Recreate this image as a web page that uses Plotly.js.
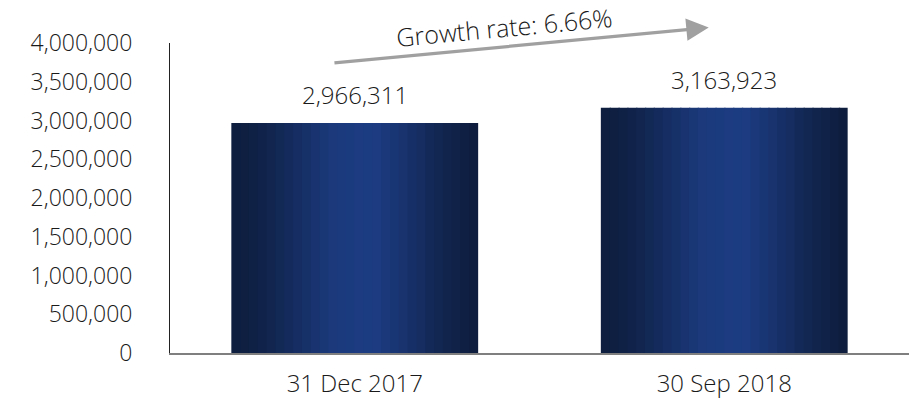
<!DOCTYPE html>
<html>
<head>
<meta charset="utf-8">
<script src="https://cdn.plot.ly/plotly-3.0.1.min.js"></script>
<style>
html,body{margin:0;padding:0;background:#fff;}
#chart{width:909px;height:400px;}
</style>
</head>
<body>
<div id="chart"></div>
<script>
// ---- data ----
const categories = ["31 Dec 2017", "30 Sep 2018"];
const values = [2966311, 3163923];
const valueLabels = ["2,966,311", "3,163,923"];
const growthLabel = "Growth rate: 6.66%";
const yTickValues = [0, 500000, 1000000, 1500000, 2000000, 2500000, 3000000, 3500000, 4000000];
const yTickLabels = ["0", "500,000", "1,000,000", "1,500,000", "2,000,000", "2,500,000", "3,000,000", "3,500,000", "4,000,000"];

// ---- styling ----
const FONT = '"Open Sans", "Noto Sans", sans-serif';
const FS = 23;
const FW = 300;
const barWidth = 0.668;
const N = 28;
// horizontal gradient stops [position, [r,g,b]]
const stops = [
  [0.00, [13, 29, 61]],
  [0.12, [16, 34, 72]],
  [0.28, [21, 46, 100]],
  [0.42, [27, 58, 125]],
  [0.58, [28, 60, 130]],
  [0.72, [23, 49, 105]],
  [0.86, [17, 37, 78]],
  [1.00, [13, 28, 60]]
];
function colorAt(t) {
  for (let k = 0; k < stops.length - 1; k++) {
    const [p0, c0] = stops[k], [p1, c1] = stops[k + 1];
    if (t >= p0 && t <= p1) {
      const f = (t - p0) / (p1 - p0);
      const c = c0.map((v, j) => Math.round(v + (c1[j] - v) * f));
      return `rgb(${c[0]},${c[1]},${c[2]})`;
    }
  }
  const c = stops[stops.length - 1][1];
  return `rgb(${c[0]},${c[1]},${c[2]})`;
}

const traces = [];
const sw = barWidth / N;
for (let i = 0; i < N; i++) {
  const t = (i + 0.5) / N;
  traces.push({
    type: 'bar',
    x: categories,
    y: values,
    width: i === N - 1 ? sw : sw * 1.15,
    offset: -barWidth / 2 + i * sw,
    marker: { color: colorAt(t), line: { width: 0 } },
    hoverinfo: 'skip',
    showlegend: false
  });
}

const annotations = categories.map((c, i) => ({
  x: c, y: values[i], xref: 'x', yref: 'y',
  text: valueLabels[i], showarrow: false,
  yanchor: 'bottom', yshift: 10,
  font: { family: FONT, size: 24, color: '#1a1a1a', weight: FW }
}));

// growth arrow (tail at first bar, head beyond second)
annotations.push({
  x: 0.958, y: 4200000, xref: 'x', yref: 'y',
  ax: -0.059, ay: 3742000, axref: 'x', ayref: 'y',
  text: '', showarrow: true,
  arrowhead: 2, arrowsize: 1.4, arrowwidth: 3.2, arrowcolor: '#a0a0a0'
});
annotations.push({
  x: 0.452, y: 1.05, xref: 'paper', yref: 'paper',
  xanchor: 'center', yanchor: 'middle',
  text: growthLabel, showarrow: false, textangle: -5.3,
  font: { family: FONT, size: 25, color: '#1a1a1a', weight: FW }
});

const layout = {
  width: 909, height: 400,
  margin: { l: 170, r: 0, t: 43, b: 47, pad: 0 },
  paper_bgcolor: '#fff', plot_bgcolor: '#fff',
  barmode: 'overlay',
  showlegend: false,
  font: { family: FONT, size: FS, color: '#1a1a1a', weight: FW },
  xaxis: {
    type: 'category',
    categoryorder: 'array', categoryarray: categories,
    range: [-0.5, 1.5],
    showgrid: false, zeroline: false,
    showline: true, linecolor: '#7f7f7f', linewidth: 1.5,
    ticks: '', ticklabelstandoff: 9,
    tickfont: { family: FONT, size: 24, color: '#1a1a1a', weight: FW }
  },
  yaxis: {
    range: [0, 4000000],
    tickmode: 'array', tickvals: yTickValues, ticktext: yTickLabels,
    showgrid: false, zeroline: false,
    showline: true, linecolor: '#222', linewidth: 1,
    ticks: '', ticklabelstandoff: 32,
    tickfont: { family: FONT, size: FS, color: '#1a1a1a', weight: FW }
  },
  annotations: annotations
};

Plotly.newPlot('chart', traces, layout, { staticPlot: true, displayModeBar: false });
</script>
</body>
</html>
